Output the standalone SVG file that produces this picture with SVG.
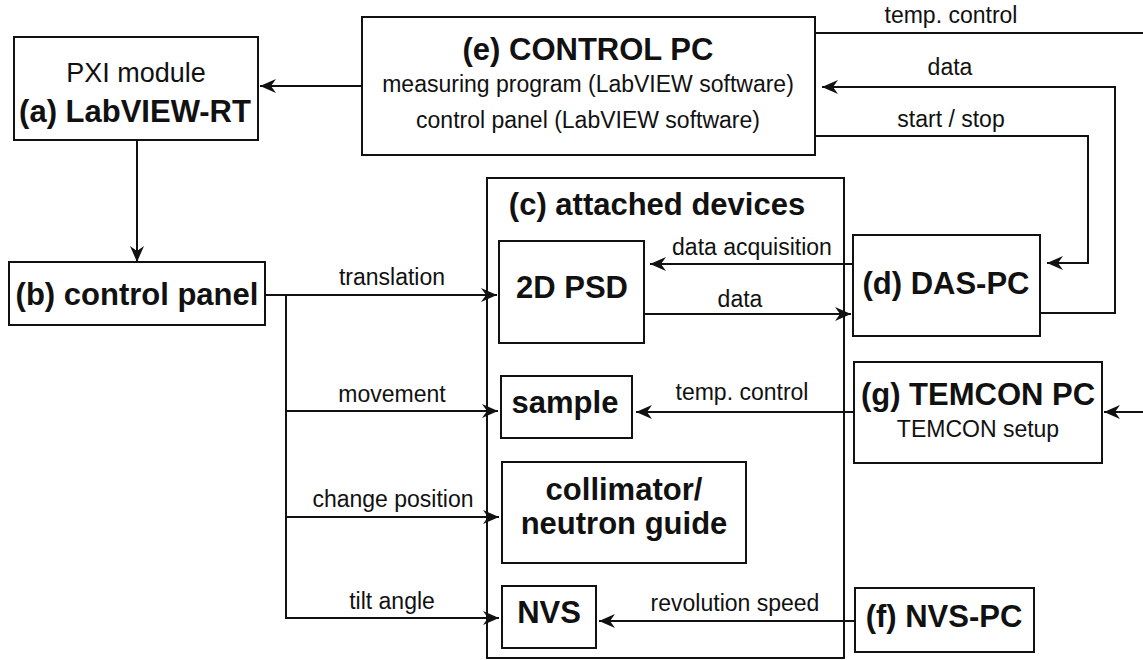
<svg xmlns="http://www.w3.org/2000/svg" width="1143" height="660" viewBox="0 0 1143 660">
<defs>
<style>
.box{fill:none;stroke:#111;stroke-width:2}
.ln{fill:none;stroke:#111;stroke-width:2}
.t{font-family:"Liberation Sans",Arial,sans-serif;fill:#111;text-anchor:middle}
.b{font-weight:bold;font-size:31px}
.r{font-size:23px}
.big{font-size:27px}
</style>
<marker id="ah" markerUnits="userSpaceOnUse" markerWidth="18" markerHeight="16" viewBox="-16 -8 18 16" refX="0" refY="0" orient="auto">
<path d="M0,0 L-16,-7 L-11,0 L-16,7 Z" fill="#111"/>
</marker>
</defs>
<rect width="1143" height="660" fill="#fff"/>

<g id="node-a">
<rect class="box" x="14" y="37" width="244" height="103"/>
<text class="t big" x="136" y="82">PXI module</text>
<text class="t b" x="135" y="122">(a) LabVIEW-RT</text>
</g>

<g id="node-e">
<rect class="box" x="362" y="17" width="453" height="138"/>
<text class="t b" x="588" y="60">(e) CONTROL PC</text>
<text class="t r" x="588" y="92">measuring program (LabVIEW software)</text>
<text class="t r" x="588" y="128">control panel (LabVIEW software)</text>
</g>

<g id="node-b">
<rect class="box" x="9" y="262" width="256" height="63"/>
<text class="t b" x="137" y="305">(b) control panel</text>
</g>

<g id="node-c">
<rect class="box" x="487" y="178" width="357" height="480"/>
<text class="t b" x="657" y="215">(c) attached devices</text>
</g>

<g id="node-psd">
<rect class="box" x="499" y="241" width="145" height="102"/>
<text class="t b" x="572" y="298">2D PSD</text>
</g>

<g id="node-sample">
<rect class="box" x="501" y="376" width="131" height="62"/>
<text class="t b" x="565" y="413">sample</text>
</g>

<g id="node-collimator">
<rect class="box" x="502" y="462" width="244" height="101"/>
<text class="t b" x="624" y="500">collimator/</text>
<text class="t b" x="624" y="534">neutron guide</text>
</g>

<g id="node-nvs">
<rect class="box" x="502" y="586" width="94" height="62"/>
<text class="t b" x="549" y="623">NVS</text>
</g>

<g id="node-d">
<rect class="box" x="853" y="235" width="187" height="101"/>
<text class="t b" x="946" y="294">(d) DAS-PC</text>
</g>

<g id="node-g">
<rect class="box" x="854" y="362" width="248" height="101"/>
<text class="t b" x="978" y="405">(g) TEMCON PC</text>
<text class="t r" x="978" y="437">TEMCON setup</text>
</g>

<g id="node-f">
<rect class="box" x="855" y="588" width="179" height="64"/>
<text class="t b" x="944" y="627">(f) NVS-PC</text>
</g>

<g id="connectors">
<line class="ln" x1="362" y1="86" x2="260" y2="86" marker-end="url(#ah)"/>
<line class="ln" x1="137" y1="140" x2="137" y2="262" marker-end="url(#ah)"/>
<line class="ln" x1="265" y1="295" x2="497" y2="295" marker-end="url(#ah)"/>
<polyline class="ln" points="286,295 286,618"/>
<line class="ln" x1="286" y1="411" x2="498" y2="411" marker-end="url(#ah)"/>
<line class="ln" x1="286" y1="517" x2="499" y2="517" marker-end="url(#ah)"/>
<line class="ln" x1="285" y1="618" x2="499" y2="618" marker-end="url(#ah)"/>
<line class="ln" x1="815" y1="33" x2="1143" y2="33"/>
<polyline class="ln" points="1040,313 1115,313 1115,87 822,87" marker-end="url(#ah)"/>
<polyline class="ln" points="815,136 1088,136 1088,263 1047,263" marker-end="url(#ah)"/>
<line class="ln" x1="853" y1="264" x2="650" y2="264" marker-end="url(#ah)"/>
<line class="ln" x1="644" y1="314" x2="851" y2="314" marker-end="url(#ah)"/>
<line class="ln" x1="854" y1="412" x2="636" y2="412" marker-end="url(#ah)"/>
<line class="ln" x1="1143" y1="412" x2="1104" y2="412" marker-end="url(#ah)"/>
<line class="ln" x1="855" y1="621" x2="599" y2="621" marker-end="url(#ah)"/>
</g>

<g id="labels">
<text class="t r" x="951" y="23">temp. control</text>
<text class="t r" x="950" y="75">data</text>
<text class="t r" x="951" y="127">start / stop</text>
<text class="t r" x="752" y="255">data acquisition</text>
<text class="t r" x="740" y="307">data</text>
<text class="t r" x="742" y="400">temp. control</text>
<text class="t r" x="735" y="611">revolution speed</text>
<text class="t r" x="392" y="285">translation</text>
<text class="t r" x="392" y="402">movement</text>
<text class="t r" x="393" y="507">change position</text>
<text class="t r" x="392" y="609">tilt angle</text>
</g>
</svg>
